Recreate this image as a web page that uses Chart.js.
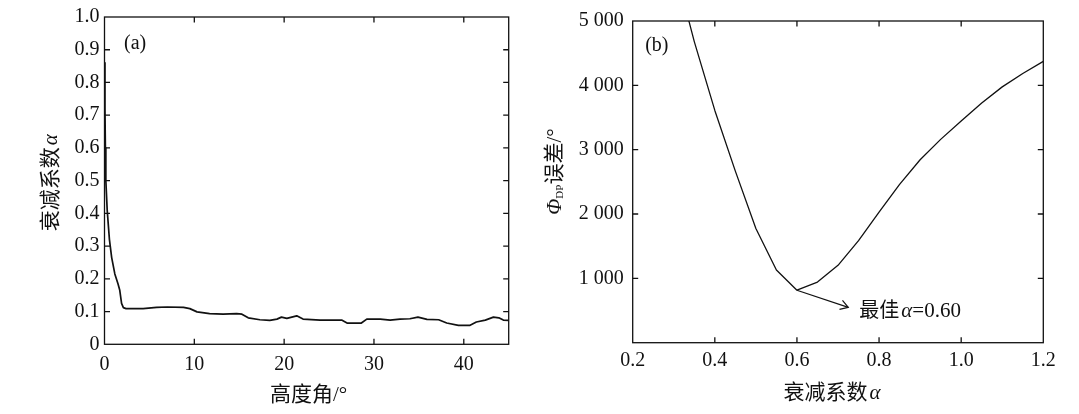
<!DOCTYPE html>
<html><head><meta charset="utf-8">
<script src="https://cdn.jsdelivr.net/npm/chart.js@4.4.1/dist/chart.umd.min.js"></script>
<style>
html,body{margin:0;padding:0;background:#fff;}
#wrap{position:relative;width:1079px;height:414px;overflow:hidden;background:#fff;}
.box{position:absolute;top:0;height:414px;}
canvas{display:block;}
</style></head><body>
<div id="wrap">
<div class="box" style="left:0;width:540px"><canvas id="ca" width="540" height="414" style="width:540px;height:414px"></canvas></div>
<div class="box" style="left:540px;width:539px"><canvas id="cb" width="539" height="414" style="width:539px;height:414px"></canvas></div>
</div>
<script>
// ---- data: panel (a) ----
const elevationDeg = [0, 0.05, 0.1, 0.15, 0.3, 0.55, 0.8, 1.15, 1.5, 1.7, 1.9, 2.1, 2.4, 3.0, 4.3, 5.8, 7.0, 8.8, 9.5, 10.3, 11.7, 13.2, 14.7, 15.3, 16.0, 17.3, 18.4, 19.2, 19.7, 20.3, 21.4, 22.1, 24.0, 26.4, 27.0, 28.6, 29.2, 30.7, 31.8, 32.9, 34.0, 34.9, 35.9, 37.2, 38.1, 39.4, 40.7, 41.4, 42.4, 43.3, 43.9, 44.4, 45];
const attenAlpha = [0.86, 0.72, 0.6, 0.5, 0.41, 0.32, 0.265, 0.215, 0.185, 0.165, 0.125, 0.112, 0.109, 0.109, 0.109, 0.113, 0.114, 0.113, 0.109, 0.099, 0.094, 0.092, 0.094, 0.092, 0.081, 0.075, 0.073, 0.077, 0.083, 0.079, 0.087, 0.077, 0.074, 0.074, 0.065, 0.065, 0.077, 0.077, 0.074, 0.077, 0.078, 0.083, 0.076, 0.075, 0.065, 0.058, 0.058, 0.068, 0.074, 0.083, 0.081, 0.074, 0.073];
// ---- data: panel (b) ----
const alphaCandidates = [0.3, 0.35, 0.4, 0.45, 0.5, 0.55, 0.6, 0.65, 0.7, 0.75, 0.8, 0.85, 0.9, 0.95, 1.0, 1.05, 1.1, 1.15, 1.2];
const phiDpError = [5900, 4680, 3610, 2667, 1774, 1130, 816, 943, 1203, 1586, 2029, 2462, 2844, 3160, 3446, 3726, 3976, 4185, 4373];
// ---- annotation ----
const bestPoint = [0.60, 816];
const arrowTip = [0.725, 550];
const bestText = ['最佳', 'α', '=0.60'];
const panelLabels = ['(a)', '(b)'];

const SERIF = "'Liberation Serif','Times New Roman',serif";
const CJK = "'Liberation Serif','Noto Sans CJK SC',serif";
const INK = '#111';

function drawSegments(ctx, segs, cx, cy, rot, align) {
  ctx.save();
  ctx.translate(cx, cy);
  if (rot) ctx.rotate(rot);
  ctx.textBaseline = 'middle';
  ctx.textAlign = 'left';
  ctx.fillStyle = INK;
  let total = 0;
  segs.forEach(s => { ctx.font = s.font; s.w = ctx.measureText(s.text).width; total += s.w + (s.gap || 0); });
  let x = align === 'left' ? 0 : -total / 2;
  segs.forEach(s => { ctx.font = s.font; ctx.fillText(s.text, x, s.dy || 0); x += s.w + (s.gap || 0); });
  ctx.restore();
}

function makeFrame(drawFn) {
  return {
    id: 'frame',
    afterDatasetsDraw(chart) {
      const {ctx, chartArea: a, scales: {x, y}} = chart;
      ctx.save();
      ctx.strokeStyle = INK;
      ctx.lineWidth = 1.3;
      ctx.strokeRect(a.left, a.top, a.right - a.left, a.bottom - a.top);
      const L = 5.5;
      ctx.beginPath();
      x.ticks.forEach(t => {
        const p = x.getPixelForValue(t.value);
        if (p <= a.left + 1 || p >= a.right - 1) return;
        ctx.moveTo(p, a.bottom); ctx.lineTo(p, a.bottom - L);
        ctx.moveTo(p, a.top); ctx.lineTo(p, a.top + L);
      });
      y.ticks.forEach(t => {
        const p = y.getPixelForValue(t.value);
        if (p <= a.top + 1 || p >= a.bottom - 1) return;
        ctx.moveTo(a.left, p); ctx.lineTo(a.left + L, p);
        ctx.moveTo(a.right, p); ctx.lineTo(a.right - L, p);
      });
      ctx.stroke();
      ctx.restore();
      drawFn(chart);
    }
  };
}

function scale(min, max, step, fmt, pad, size, isX) {
  return {
    type: 'linear', min, max,
    grid: {display: false, drawTicks: false},
    border: {display: false},
    ticks: {stepSize: step, includeBounds: false, autoSkip: false, maxRotation: 0, minRotation: 0,
      padding: pad, color: INK, font: {family: SERIF, size: 20}, callback: fmt},
    afterFit(s) { if (isX) s.height = size; else s.width = size; }
  };
}

function common(padding) {
  return {
    responsive: false, animation: false, devicePixelRatio: 1,
    layout: {padding},
    plugins: {legend: {display: false}, tooltip: {enabled: false}},
    elements: {point: {radius: 0}}
  };
}

// ---------- panel (a) ----------
const drawA = chart => {
  const {ctx, chartArea: a} = chart;
  ctx.save();
  ctx.fillStyle = INK; ctx.font = '20px ' + SERIF; ctx.textBaseline = 'middle'; ctx.textAlign = 'left';
  ctx.fillText(panelLabels[0], a.left + 19.5, a.top + 27);
  ctx.restore();
  drawSegments(ctx, [{text: '高度角/°', font: '21px ' + CJK}], (a.left + a.right) / 2 + 2, 395, 0);
  drawSegments(ctx, [{text: '衰减系数', font: '21px ' + CJK, gap: 2}, {text: 'α', font: 'italic 21px ' + SERIF}], 51.7, (a.top + a.bottom) / 2 + 2, -Math.PI / 2);
};
const optA = common({left: 0, top: 14, right: 31.3, bottom: 0});
optA.scales = {
  x: scale(0, 45, 10, v => String(v), 8, 69.7, true),
  y: scale(0, 1, 0.1, v => v === 0 ? '0' : Number(v).toFixed(1), 5, 104.5, false)
};
new Chart(document.getElementById('ca'), {
  type: 'line',
  data: {datasets: [{data: elevationDeg.map((x, i) => ({x, y: attenAlpha[i]})),
    borderColor: INK, borderWidth: 1.7, tension: 0, fill: false, pointRadius: 0, borderJoinStyle: 'round', clip: 0}]},
  options: optA,
  plugins: [makeFrame(drawA)]
});

// ---------- panel (b) ----------
const drawB = chart => {
  const {ctx, chartArea: a, scales: {x, y}} = chart;
  ctx.save();
  ctx.fillStyle = INK; ctx.font = '20px ' + SERIF; ctx.textBaseline = 'middle'; ctx.textAlign = 'left';
  ctx.fillText(panelLabels[1], a.left + 12.5, a.top + 25);
  const x0 = x.getPixelForValue(bestPoint[0]), y0 = y.getPixelForValue(bestPoint[1]);
  const x1 = x.getPixelForValue(arrowTip[0]), y1 = y.getPixelForValue(arrowTip[1]);
  ctx.strokeStyle = INK; ctx.lineWidth = 1.2; ctx.lineJoin = 'miter';
  ctx.beginPath(); ctx.moveTo(x0, y0); ctx.lineTo(x1, y1); ctx.stroke();
  const ang = Math.atan2(y1 - y0, x1 - x0), H = 9, W = 0.55;
  ctx.beginPath();
  ctx.moveTo(x1 - H * Math.cos(ang - W), y1 - H * Math.sin(ang - W));
  ctx.lineTo(x1, y1);
  ctx.lineTo(x1 - H * Math.cos(ang + W), y1 - H * Math.sin(ang + W));
  ctx.stroke();
  ctx.restore();
  drawSegments(ctx, [
    {text: bestText[0], font: '20px ' + CJK, gap: 2},
    {text: bestText[1], font: 'italic 21px ' + SERIF},
    {text: bestText[2], font: '21px ' + SERIF}
  ], x1 + 11, y1 + 4, 0, 'left');
  drawSegments(ctx, [{text: '衰减系数', font: '21px ' + CJK, gap: 2}, {text: 'α', font: 'italic 21px ' + SERIF}], (a.left + a.right) / 2 - 6, 393, 0);
  drawSegments(ctx, [
    {text: 'Φ', font: 'italic 21px ' + SERIF},
    {text: 'DP', font: '11px ' + SERIF, dy: 5},
    {text: '误差/°', font: '21px ' + CJK}
  ], 15.5, 171.5, -Math.PI / 2);
};
const optB = common({left: 0, top: 15.7, right: 35.7, bottom: 0});
optB.scales = {
  x: scale(0.2, 1.2, 0.2, v => Number(v).toFixed(1), 6, 71.3, true),
  y: scale(0, 5000, 1000, v => v === 0 ? '' : Math.round(v / 1000) + ' 000', 9, 92.7, false)
};
new Chart(document.getElementById('cb'), {
  type: 'line',
  data: {datasets: [{data: alphaCandidates.map((x, i) => ({x, y: phiDpError[i]})),
    borderColor: INK, borderWidth: 1.3, tension: 0, fill: false, pointRadius: 0, borderJoinStyle: 'round', clip: 0}]},
  options: optB,
  plugins: [makeFrame(drawB)]
});
</script>
</body></html>
